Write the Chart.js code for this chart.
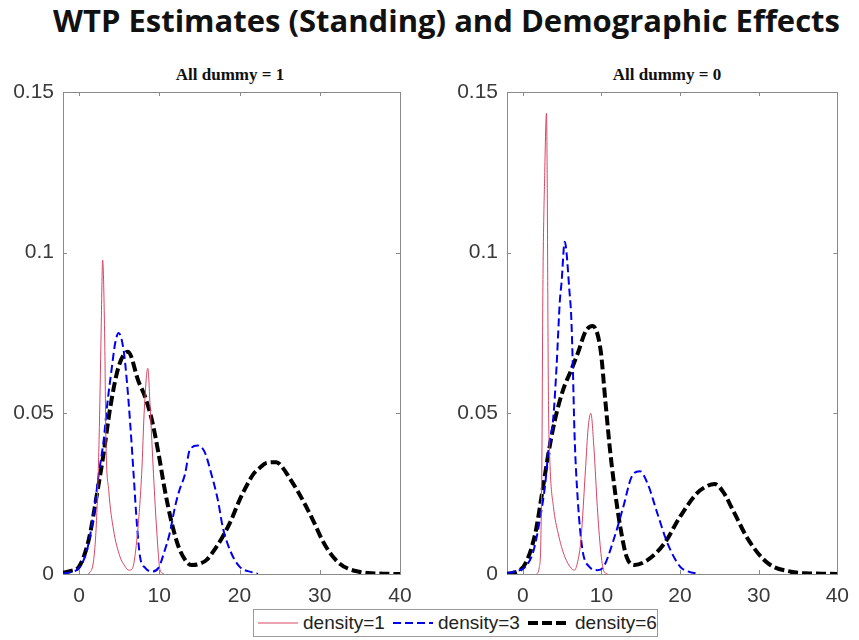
<!DOCTYPE html>
<html>
<head>
<meta charset="utf-8">
<script src="https://cdn.jsdelivr.net/npm/chart.js@4/dist/chart.umd.min.js"></script>
<style>
  html, body { margin:0; padding:0; background:#fff; }
  body { width:859px; height:640px; position:relative; overflow:hidden; }
  #title { position:absolute; left:53px; top:2px; font-family:"Open Sans", sans-serif; font-weight:700; font-size:30px; line-height:38px; color:#111; white-space:nowrap; transform-origin:0 0; }
  .sub { position:absolute; top:64px; width:200px; text-align:center; font-family:"Liberation Serif", serif; font-weight:700; font-size:17px; line-height:22px; color:#111; white-space:nowrap; }
  canvas { position:absolute; }
  #legend { position:absolute; left:253px; top:609px; width:405px; height:28px; border:1px solid #9a9a9a; background:#fff; box-sizing:border-box; font-family:"Liberation Sans", Arial, sans-serif; font-size:19px; color:#222; }
  #legend svg { position:absolute; top:0; }
  #legend span { position:absolute; top:2px; line-height:22px; white-space:nowrap; }
</style>
</head>
<body>
<div id="title">WTP Estimates (Standing) and Demographic Effects</div>
<div class="sub" style="left:130px;">All dummy = 1</div>
<div class="sub" style="left:567px;">All dummy = 0</div>
<canvas id="c1" width="430" height="560" style="left:0;top:60px;width:430px;height:560px;"></canvas>
<canvas id="c2" width="429" height="560" style="left:430px;top:60px;width:429px;height:560px;"></canvas>
<div id="legend">
  <svg style="left:4px" width="42" height="26"><line x1="0" y1="13" x2="40" y2="13" stroke="rgb(215,70,100)" stroke-width="1"/></svg>
  <span style="left:49px">density=1</span>
  <svg style="left:139px" width="42" height="26"><line x1="0" y1="13" x2="40" y2="13" stroke="#0000ee" stroke-width="2" stroke-dasharray="8,4"/></svg>
  <span style="left:184px">density=3</span>
  <svg style="left:274px" width="44" height="26"><line x1="0" y1="13" x2="42" y2="13" stroke="#000" stroke-width="4" stroke-dasharray="10,4"/></svg>
  <span style="left:321px">density=6</span>
</div>
<script>
// ---- tick definitions ----
const xTickValues = [0, 10, 20, 30, 40];
const yTickValues = [0, 0.05, 0.1, 0.15];
const yTickLabels = ['0', '0.05', '0.1', '0.15'];
const seriesNames = ['density=1', 'density=3', 'density=6'];

// ---- All dummy = 1 ----
const redX1 = [1.2, 1.8, 2.2, 2.5, 2.75, 2.94, 3.2, 3.35, 3.7, 4.3, 5.1, 5.7, 6.2, 6.6, 7.2, 7.8, 8.15, 8.57, 8.86, 9.28, 9.7, 10.1, 10.6];
const redY1 = [0, 0.004, 0.018, 0.042, 0.075, 0.0977, 0.0728, 0.0417, 0.026, 0.0137, 0.0054, 0.0025, 0.0012, 0.0015, 0.0106, 0.031, 0.052, 0.064, 0.052, 0.031, 0.0127, 0.0012, 0];
const blueX1 = [-2, -1, 0, 1.0, 1.83, 2.45, 3.07, 3.48, 4.1, 4.5, 4.93, 5.55, 5.96, 6.37, 6.8, 7.2, 7.6, 8.25, 9.07, 9.9, 10.7, 11.3, 11.97, 12.5, 13.2, 13.8, 14.8, 15.65, 16.5, 17.3, 17.9, 18.8, 20, 21.6, 22.3];
const blueY1 = [0.0002, 0.0006, 0.0019, 0.0075, 0.019, 0.031, 0.0417, 0.052, 0.0645, 0.0718, 0.075, 0.0697, 0.060, 0.047, 0.031, 0.0159, 0.0054, 0.0019, 0.0008, 0.0019, 0.0075, 0.0127, 0.021, 0.026, 0.031, 0.0386, 0.040, 0.038, 0.031, 0.023, 0.0147, 0.0075, 0.0023, 0.0005, 0];
const blackX1 = [-2, -1, 0, 1.2, 2.24, 3.07, 3.9, 4.93, 6.1, 7.4, 8.25, 9.07, 9.9, 10.7, 11.55, 12.4, 13.4, 14, 14.8, 15.9, 17, 17.9, 19, 20, 21, 21.7, 22.5, 23.3, 24.6, 25.4, 26.2, 27.2, 28.3, 29.3, 30.3, 31.3, 32.4, 33.5, 34.9, 36, 38, 40];
const blackY1 = [0.0004, 0.001, 0.0023, 0.0106, 0.025, 0.0376, 0.052, 0.0645, 0.0692, 0.060, 0.055, 0.048, 0.0376, 0.026, 0.0159, 0.0085, 0.0038, 0.0028, 0.003, 0.0044, 0.008, 0.0116, 0.017, 0.023, 0.028, 0.031, 0.033, 0.0345, 0.0348, 0.033, 0.030, 0.026, 0.021, 0.016, 0.0106, 0.0065, 0.0034, 0.0017, 0.0007, 0.0003, 0.0001, 0];

// ---- All dummy = 0 ----
const redX0 = [1.8, 2.1, 2.3, 2.45, 2.55, 2.8, 3.02, 3.12, 3.19, 3.27, 3.48, 3.9, 4.5, 5.34, 6.17, 6.58, 7.0, 7.4, 8.0, 8.3, 8.66, 9.07, 9.48, 9.9, 10.3, 10.8];
const redY0 = [0, 0.002, 0.01, 0.04, 0.085, 0.125, 0.1434, 0.12, 0.085, 0.054, 0.0334, 0.021, 0.0127, 0.0054, 0.0018, 0.0012, 0.004, 0.0106, 0.0334, 0.045, 0.050, 0.0386, 0.021, 0.0075, 0.001, 0];
const blueX0 = [-2, -1, 0.37, 1.4, 2.24, 2.86, 3.27, 3.9, 4.3, 4.72, 4.93, 5.34, 5.96, 6.17, 6.37, 6.58, 7.0, 7.6, 8.45, 9.48, 10.3, 11.55, 12.8, 13.8, 14.9, 15.9, 17.1, 18.4, 20, 21, 22.5];
const blueY0 = [0.0002, 0.0008, 0.0023, 0.0075, 0.0178, 0.028, 0.0386, 0.049, 0.0645, 0.085, 0.0905, 0.1034, 0.0874, 0.080, 0.0645, 0.044, 0.023, 0.0075, 0.0023, 0.0012, 0.0023, 0.0106, 0.021, 0.030, 0.032, 0.028, 0.019, 0.0096, 0.0023, 0.0008, 0];
const blackX0 = [-2, -1.28, 0.37, 1.6, 2.45, 3.27, 4.1, 5.13, 6.17, 7.0, 8.0, 8.86, 9.9, 10.5, 11.1, 11.77, 12.4, 13.2, 14.2, 15.9, 18, 20, 22.1, 23.3, 24.4, 25.5, 26.7, 28.7, 31.2, 34.1, 36, 38, 40];
const blackY0 = [0.0001, 0.0003, 0.0034, 0.0127, 0.025, 0.0376, 0.048, 0.0573, 0.0635, 0.0687, 0.0755, 0.0772, 0.0697, 0.054, 0.0386, 0.025, 0.0147, 0.0054, 0.0028, 0.0044, 0.0095, 0.0178, 0.025, 0.0272, 0.028, 0.0255, 0.020, 0.0106, 0.0033, 0.0007, 0.0002, 0.0001, 0];

const pts = (xs, ys) => xs.map((x, i) => ({ x: x, y: ys[i] }));

// fit the main title width
(function(){
  const t = document.getElementById('title');
  const w = t.getBoundingClientRect().width;
  t.style.transform = 'scaleX(' + (787 / w) + ')';
})();

const boxPlugin = {
  id: 'boxPlugin',
  beforeDatasetsDraw(chart) {
    const { ctx, chartArea: a, scales } = chart;
    ctx.save();
    ctx.strokeStyle = '#8a8a8a';
    ctx.lineWidth = 1;
    ctx.strokeRect(Math.round(a.left) + 0.5, Math.round(a.top) + 0.5, Math.round(a.right - a.left), Math.round(a.bottom - a.top));
    const L = 4;
    ctx.beginPath();
    xTickValues.forEach(v => {
      const px = Math.round(scales.x.getPixelForValue(v)) + 0.5;
      ctx.moveTo(px, a.bottom); ctx.lineTo(px, a.bottom - L);
      ctx.moveTo(px, a.top); ctx.lineTo(px, a.top + L);
    });
    yTickValues.forEach(v => {
      const py = Math.round(scales.y.getPixelForValue(v)) + 0.5;
      ctx.moveTo(a.left, py); ctx.lineTo(a.left + L, py);
      ctx.moveTo(a.right, py); ctx.lineTo(a.right - L, py);
    });
    ctx.stroke();
    ctx.restore();
  }
};

function makeChart(id, red, blue, black, yAxisWidth, rightPad) {
  const tickFont = { family: '"Liberation Sans", Arial, sans-serif', size: 21 };
  return new Chart(document.getElementById(id), {
    type: 'line',
    data: {
      datasets: [
        { label: seriesNames[0], data: red, borderColor: 'rgb(215,70,100)', borderWidth: 1, pointRadius: 0, cubicInterpolationMode: 'monotone', fill: false },
        { label: seriesNames[1], data: blue, borderColor: '#0000ee', borderWidth: 2, borderDash: [8, 4], pointRadius: 0, cubicInterpolationMode: 'monotone', fill: false },
        { label: seriesNames[2], data: black, borderColor: '#000', borderWidth: 4, borderDash: [10, 4], pointRadius: 0, cubicInterpolationMode: 'monotone', fill: false }
      ]
    },
    options: {
      responsive: false,
      animation: false,
      devicePixelRatio: 1,
      events: [],
      layout: { padding: { top: 32, right: rightPad, left: 0, bottom: 0 } },
      plugins: { legend: { display: false }, title: { display: false }, tooltip: { enabled: false } },
      scales: {
        x: {
          type: 'linear', min: -2, max: 40,
          afterBuildTicks: s => { s.ticks = xTickValues.map(v => ({ value: v })); },
          afterFit: s => { s.height = 46; },
          grid: { display: false, drawTicks: false },
          border: { display: false },
          ticks: { font: tickFont, color: '#3a3a3a', padding: 10, maxRotation: 0, autoSkip: false, callback: v => String(v) }
        },
        y: {
          type: 'linear', min: 0, max: 0.15,
          afterBuildTicks: s => { s.ticks = yTickValues.map(v => ({ value: v })); },
          afterFit: s => { s.width = yAxisWidth; },
          grid: { display: false, drawTicks: false },
          border: { display: false },
          ticks: { font: tickFont, color: '#3a3a3a', padding: 9, autoSkip: false,
            callback: (v, i) => yTickLabels[yTickValues.indexOf(v)] ?? yTickLabels[i] }
        }
      }
    },
    plugins: [boxPlugin]
  });
}

makeChart('c1', pts(redX1, redY1), pts(blueX1, blueY1), pts(blackX1, blackY1), 63, 30);
makeChart('c2', pts(redX0, redY0), pts(blueX0, blueY0), pts(blackX0, blackY0), 77, 15);
</script>
</body>
</html>
